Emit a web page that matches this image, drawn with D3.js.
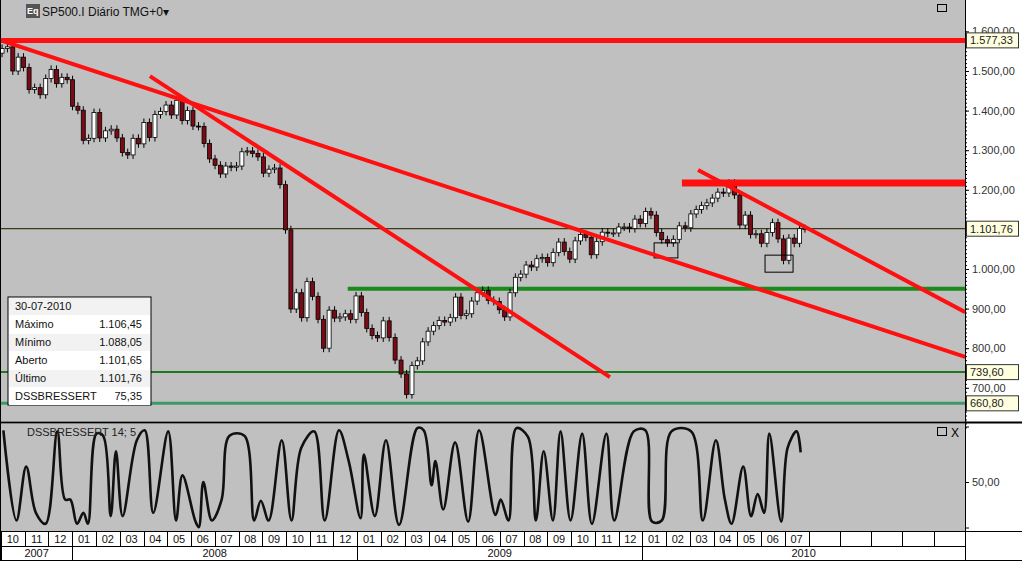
<!DOCTYPE html><html><head><meta charset="utf-8"><script src="https://cdn.jsdelivr.net/npm/d3@7"></script>
<style>body{margin:0;background:#fff}text{font-family:Arial,"Liberation Sans",sans-serif}</style></head><body><svg id="c" width="1022" height="561"></svg>
<script>
// weekly closes, starting week of 2007-10-05
const closes=[1557,1561,1500,1535,1509,1453,1458,1440,1481,1504,1468,1484,1478,
1411,1401,1325,1330,1395,1331,1349,1353,1331,1294,1288,1330,1316,1370,1332,1390,1398,1414,1389,1426,1375,1400,1361,1360,1317,1278,1262,1240,1260,1257,1260,1296,1298,1292,1283,1242,1252,1255,1213,1099,899,940,877,968,931,873,800,896,876,879,887,873,
932,890,850,832,826,869,827,770,735,683,756,768,816,843,857,870,866,877,929,883,887,919,940,946,921,918,897,879,940,979,987,1010,1005,1026,1029,1016,1042,1068,1044,1025,1071,1087,1080,1036,1069,1093,1091,1091,1106,1106,1102,1126,1115,
1145,1136,1092,1074,1066,1075,1109,1104,1139,1150,1160,1167,1179,1194,1192,1217,1187,1111,1136,1087,1089,1065,1092,1117,1076,1022,1078,1065,1102,1102];
const firstClose=1545;
// oscillator turning points: [months since Oct 2007, value]
const dss=[[0.10,97],[0.65,15],[1.06,64],[1.47,22],[1.88,12],[2.37,96],[2.70,34],[2.92,34],[3.20,12],[3.47,22],[3.66,12],[4.02,94],[4.30,92],[4.62,19],[4.84,78],[5.12,19],[5.72,88],[6.05,97],[6.41,22],[7.04,96],[7.37,15],[7.64,56],[8.19,14],[8.33,9],[8.52,50],[8.88,15],[9.29,34],[9.62,92],[10.25,92],[10.66,15],[10.94,33],[11.27,15],[11.82,88],[12.23,15],[12.64,81],[13.19,96],[13.63,15],[14.23,97],[14.64,69],[15.14,17],[15.28,75],[15.74,19],[16.21,88],[16.76,11],[17.53,99],[17.80,97],[18.13,47],[18.29,69],[18.62,25],[19.12,86],[19.67,14],[20.13,97],[20.82,20],[21.04,34],[21.37,15],[21.70,99],[22.19,91],[22.52,15],[22.85,78],[23.24,15],[23.56,96],[23.98,15],[24.47,94],[24.88,12],[25.49,94],[25.82,15],[26.64,96],[27.13,97],[27.41,14],[27.82,15],[28.23,96],[29.06,96],[29.55,15],[30.10,88],[30.48,34],[30.76,12],[31.25,64],[31.58,19],[31.86,39],[32.13,22],[32.35,94],[32.85,14],[33.12,81],[33.50,96],[33.67,77]];
const monthLabels=["10","11","12","01","02","03","04","05","06","07","08","09","10","11","12","01","02","03","04","05","06","07","08","09","10","11","12","01","02","03","04","05","06","07"];
const years=[["2007",0,3],["2008",3,15],["2009",15,27],["2010",27,39]];
// trend lines [m1,v1,m2,v2,width]
const redLines=[[-0.1,1577.33,40.7,1577.33,5],[-0.04,1578,40.6,778,4],[6.27,1487,25.64,727,4],[29.35,1250,40.6,891,4],[28.67,1217,40.7,1217,7]];
const boxes=[[27.5,1066,28.5,1028],[32.17,1035,33.35,992]];
const priceTicks=[700,800,900,1000,1100,1200,1300,1400,1500,1600];
const tags=[1577.33,1101.76,739.60,660.80];
const info=[["30-07-2010",""],["Máximo","1.106,45"],["Mínimo","1.088,05"],["Aberto","1.101,65"],["Último","1.101,76"],["DSSBRESSERT","75,35"]];

const svg=d3.select("#c");
const W=965;
const x=d3.scaleLinear().domain([0,34]).range([1,808.5]);
const y=d3.scaleLinear().domain([600,1600]).range([427.4,31.4]);
const yo=d3.scaleLinear().domain([0,100]).range([537,427]);
const fmt=v=>{const s=d3.format(",.2f")(v);return s.replace(/,/g,"#").replace(/\./g,",").replace(/#/g,".");};
const mOf=d=>(d.getFullYear()-2007)*12+d.getMonth()-9+(d.getDate()-1)/new Date(d.getFullYear(),d.getMonth()+1,0).getDate();

svg.append("rect").attr("x",0).attr("y",0).attr("width",W).attr("height",421).attr("fill","#c0c0c0");
svg.append("rect").attr("x",0).attr("y",424).attr("width",W).attr("height",107).attr("fill","#c0c0c0");
svg.append("line").attr("x1",0).attr("x2",1022).attr("y1",422.5).attr("y2",422.5).attr("stroke","#000").attr("stroke-width",2);
svg.append("line").attr("x1",W+0.5).attr("x2",W+0.5).attr("y1",0).attr("y2",561).attr("stroke","#000");
svg.append("clipPath").attr("id","cp").append("rect").attr("x",0).attr("y",0).attr("width",W).attr("height",421);
const g=svg.append("g").attr("clip-path","url(#cp)");

g.append("line").attr("x1",0).attr("x2",W).attr("y1",y(1101.76)).attr("y2",y(1101.76)).attr("stroke","#3a3a1a").attr("stroke-width",1.2);
g.append("line").attr("x1",0).attr("x2",W).attr("y1",y(739.6)).attr("y2",y(739.6)).attr("stroke","#1f7a1f").attr("stroke-width",2);
g.append("line").attr("x1",0).attr("x2",W).attr("y1",y(660.8)).attr("y2",y(660.8)).attr("stroke","#3c9a6a").attr("stroke-width",3);
g.append("line").attr("x1",x(14.6)).attr("x2",W).attr("y1",y(950)).attr("y2",y(950)).attr("stroke","#1a8a1a").attr("stroke-width",4);

const base=new Date(2007,9,5);
closes.forEach((c,i)=>{
  const o=i?closes[i-1]:firstClose;
  const d=new Date(base.getTime()+i*7*864e5);
  const cx=x(mOf(d))-2;
  const top=y(Math.max(o,c)),bot=y(Math.min(o,c));
  g.append("line").attr("x1",cx).attr("x2",cx).attr("y1",top-4).attr("y2",bot+4).attr("stroke","#000");
  g.append("rect").attr("x",cx-2).attr("y",top).attr("width",4).attr("height",Math.max(1,bot-top))
   .attr("fill",c>=o?"#fff":"#7a0a14").attr("stroke","#000").attr("stroke-width",0.8);
});
boxes.forEach(b=>g.append("rect").attr("x",x(b[0])).attr("y",y(b[1])).attr("width",x(b[2])-x(b[0])).attr("height",y(b[3])-y(b[1])).attr("fill","none").attr("stroke","#000"));
redLines.forEach(l=>g.append("line").attr("x1",x(l[0])).attr("y1",y(l[1])).attr("x2",x(l[2])).attr("y2",y(l[3])).attr("stroke","#ff1010").attr("stroke-width",l[4]));

svg.append("rect").attr("x",26).attr("y",4).attr("width",14).attr("height",14).attr("fill","#555");
svg.append("text").attr("x",27).attr("y",14).attr("font-size",9).attr("font-weight","bold").attr("fill","#fff").text("Eq");
svg.append("text").attr("x",42).attr("y",16).attr("font-size",12).attr("fill","#111").text("SP500.I Diário TMG+0▾");
svg.append("rect").attr("x",937.5).attr("y",4.5).attr("width",9).attr("height",7).attr("fill","none").attr("stroke","#000");

const ax=svg.append("g").attr("transform",`translate(${W},0)`);
ax.call(d3.axisRight(y).tickValues(priceTicks).tickFormat(fmt).tickSize(4));
ax.call(a=>a.select(".domain").remove());
ax.selectAll("text").attr("font-size",11).attr("fill","#333").attr("x",7);
ax.append("g").call(d3.axisRight(y).ticks(100).tickFormat("").tickSize(2)).call(a=>a.select(".domain").remove());
tags.forEach(t=>{
  ax.append("rect").attr("x",1.5).attr("y",y(t)-7.5).attr("width",52).attr("height",15).attr("fill","#ffffe0").attr("stroke","#333");
  ax.append("text").attr("x",5).attr("y",y(t)+4).attr("font-size",11).attr("fill","#222").text(fmt(t));
});

const ib=svg.append("g").attr("transform","translate(8,297)");
ib.append("rect").attr("x",0).attr("y",0).attr("width",143).attr("height",108).attr("fill","#fff").attr("stroke","#000");
info.forEach((r,i)=>{
  ib.append("rect").attr("x",1).attr("y",1+i*18).attr("width",141).attr("height",17).attr("fill",i%2?"#fff":"#f2f2f2");
  ib.append("text").attr("x",7).attr("y",13+i*18).attr("font-size",11).attr("fill","#111").text(r[0]);
  ib.append("text").attr("x",134).attr("y",13+i*18).attr("text-anchor","end").attr("font-size",11).attr("fill","#111").text(r[1]);
});

svg.append("clipPath").attr("id","cp2").append("rect").attr("x",0).attr("y",424).attr("width",W).attr("height",107);
svg.append("path").attr("clip-path","url(#cp2)").datum(dss).attr("d",d3.line().x(d=>x(d[0])).y(d=>yo(d[1])).curve(d3.curveCatmullRom))
 .attr("fill","none").attr("stroke","#111").attr("stroke-width",2.6);
svg.append("text").attr("x",27).attr("y",436).attr("font-size",11).attr("fill","#222").text("DSSBRESSERT 14; 5");
svg.append("rect").attr("x",937.5).attr("y",427.5).attr("width",9).attr("height",8).attr("fill","none").attr("stroke","#000");
svg.append("text").attr("x",951).attr("y",437).attr("font-size",12).attr("fill","#000").text("X");
const ao=svg.append("g").attr("transform",`translate(${W},0)`);
ao.call(d3.axisRight(yo).tickValues([50]).tickFormat(fmt).tickSize(4)).call(a=>a.select(".domain").remove());
ao.selectAll("text").attr("font-size",11).attr("fill","#333").attr("x",7);
[427,528].forEach(t=>ao.append("line").attr("x1",0).attr("x2",4).attr("y1",t).attr("y2",t).attr("stroke","#000"));

const ta=svg.append("g");
ta.append("line").attr("x1",0).attr("x2",1022).attr("y1",531.5).attr("y2",531.5).attr("stroke","#000");
ta.append("line").attr("x1",0).attr("x2",W).attr("y1",546.5).attr("y2",546.5).attr("stroke","#000");
ta.append("line").attr("x1",0).attr("x2",1022).attr("y1",560.5).attr("y2",560.5).attr("stroke","#000");
const cells=d3.range(0,39).map(i=>i<34?[x(i),x(i+1)]:[x(34)+(i-34)*(W-x(34))/5,x(34)+(i-33)*(W-x(34))/5]);
cells.forEach((c,i)=>{
  ta.append("line").attr("x1",Math.round(c[0])+0.5).attr("x2",Math.round(c[0])+0.5).attr("y1",531).attr("y2",546).attr("stroke","#000");
  if(monthLabels[i]) ta.append("text").attr("x",(c[0]+c[1])/2).attr("y",543).attr("text-anchor","middle").attr("font-size",11).attr("fill","#111").text(monthLabels[i]);
});
years.forEach(yy=>{
  const a=cells[yy[1]][0],b=cells[yy[2]-1][1];
  ta.append("line").attr("x1",Math.round(a)+0.5).attr("x2",Math.round(a)+0.5).attr("y1",546).attr("y2",561).attr("stroke","#000");
  ta.append("text").attr("x",(a+b)/2).attr("y",557).attr("text-anchor","middle").attr("font-size",11).attr("fill","#111").text(yy[0]);
});
ta.append("line").attr("x1",0.5).attr("x2",0.5).attr("y1",0).attr("y2",561).attr("stroke","#000");
</script></body></html>
